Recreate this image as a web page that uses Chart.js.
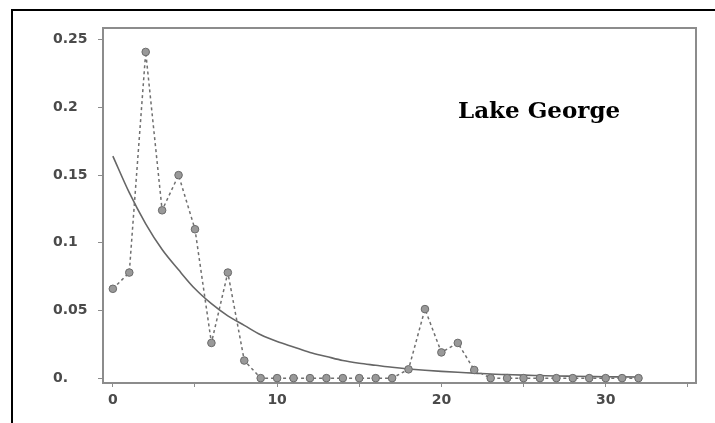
<!DOCTYPE html>
<html>
<head>
<meta charset="utf-8">
<script src="https://cdn.jsdelivr.net/npm/chart.js@4.4.1/dist/chart.umd.min.js"></script>
<style>
    html, body { margin: 0; padding: 0; background: #fff; }
    #wrap { position: relative; width: 715px; height: 423px; }
    #frame {
        position: absolute; left: 11px; top: 9px; right: 0; bottom: 0;
        border-top: 2px solid #000; border-left: 2px solid #000;
        pointer-events: none;
    }
</style>
</head>
<body>
<div id="wrap">
    <canvas id="lakeChart" width="715" height="423"></canvas>
    <div id="frame"></div>
</div>
<script>
/* Lake George: observed proportions (dotted) and fitted decay curve (solid) */

const lags = [0, 1, 2, 3, 4, 5, 6, 7, 8, 9, 10, 11, 12, 13, 14, 15, 16,
              17, 18, 19, 20, 21, 22, 23, 24, 25, 26, 27, 28, 29, 30, 31, 32];

const observed = [0.066, 0.078, 0.241, 0.124, 0.150, 0.110, 0.026, 0.078, 0.013,
                  0, 0, 0, 0, 0, 0, 0, 0, 0,
                  0.0065, 0.051, 0.019, 0.026, 0.006,
                  0, 0, 0, 0, 0, 0, 0, 0, 0, 0];

const fitted = [0.164, 0.137, 0.114, 0.095, 0.080, 0.066, 0.055, 0.046, 0.039,
                0.032, 0.027, 0.023, 0.019, 0.016, 0.013, 0.011, 0.0095, 0.008,
                0.0068, 0.0058, 0.005, 0.0043, 0.0037, 0.003, 0.0026, 0.0022,
                0.0019, 0.0016, 0.0014, 0.0012, 0.001, 0.0009, 0.0008];

const yTicks = [0, 0.05, 0.1, 0.15, 0.2, 0.25];
const yTickLabels = ["0.", "0.05", "0.1", "0.15", "0.2", "0.25"];
const xTicks = [0, 5, 10, 15, 20, 25, 30, 35];
const xTickLabels = ["0", "", "10", "", "20", "", "30", ""];

const titleText = "Lake George";

const axisGrey = "#8c8c8c";
const labelFont = { family: "'DejaVu Sans', Verdana, sans-serif", size: 14, weight: "bold" };

// рамка вокруг области графика (верх и правая сторона)
const boxPlugin = {
    id: "plotBox",
    beforeDatasetsDraw(chart) {
        const a = chart.chartArea;
        const ctx = chart.ctx;
        ctx.save();
        ctx.strokeStyle = axisGrey;
        ctx.lineWidth = 2;
        ctx.strokeRect(a.left, a.top, a.right - a.left, a.bottom - a.top);
        ctx.restore();
    }
};

// подпись озера внутри поля графика
const titlePlugin = {
    id: "lakeTitle",
    afterDraw(chart) {
        const ctx = chart.ctx;
        ctx.save();
        ctx.font = "bold 23px 'DejaVu Serif', serif";
        ctx.fillStyle = "#000";
        ctx.textBaseline = "alphabetic";
        ctx.fillText(titleText, 458, 118);
        ctx.restore();
    }
};

const ctx = document.getElementById("lakeChart");

new Chart(ctx, {
    type: "line",
    data: {
        datasets: [
            {
                label: "observed",
                data: lags.map((x, i) => ({ x: x, y: observed[i] })),
                borderColor: "#707070",
                borderWidth: 1.5,
                borderDash: [3, 3],
                pointRadius: 3.8,
                pointBackgroundColor: "#999999",
                pointBorderColor: "#6a6a6a",
                pointBorderWidth: 1,
                tension: 0
            },
            {
                label: "fitted",
                data: lags.map((x, i) => ({ x: x, y: fitted[i] })),
                borderColor: "#666666",
                borderWidth: 1.6,
                pointRadius: 0,
                cubicInterpolationMode: "monotone"
            }
        ]
    },
    options: {
        responsive: false,
        animation: false,
        layout: { padding: { left: 53, top: 28, right: 19, bottom: 0 } },
        plugins: {
            legend: { display: false },
            tooltip: { enabled: false }
        },
        scales: {
            x: {
                type: "linear",
                min: -0.6,
                max: 35.5,
                afterBuildTicks: scale => { scale.ticks = xTicks.map(v => ({ value: v })); },
                afterFit: scale => { scale.height = 40; },
                ticks: {
                    color: "#4a4a4a",
                    font: labelFont,
                    padding: 5,
                    maxRotation: 0,
                    autoSkip: false,
                    callback: (value, index) => xTickLabels[index]
                },
                grid: {
                    drawOnChartArea: false,
                    drawTicks: true,
                    tickLength: 4,
                    color: axisGrey
                },
                border: { display: true, color: axisGrey, width: 2 }
            },
            y: {
                type: "linear",
                min: -0.0036,
                max: 0.2587,
                afterBuildTicks: scale => { scale.ticks = yTicks.map(v => ({ value: v })); },
                afterFit: scale => { scale.width = 50; },
                ticks: {
                    color: "#4a4a4a",
                    font: labelFont,
                    crossAlign: "far",
                    autoSkip: false,
                    callback: (value, index) => yTickLabels[index]
                },
                grid: {
                    drawOnChartArea: false,
                    drawTicks: true,
                    tickLength: 5,
                    color: axisGrey
                },
                border: { display: true, color: axisGrey, width: 2 }
            }
        }
    },
    plugins: [boxPlugin, titlePlugin]
});
</script>
</body>
</html>
